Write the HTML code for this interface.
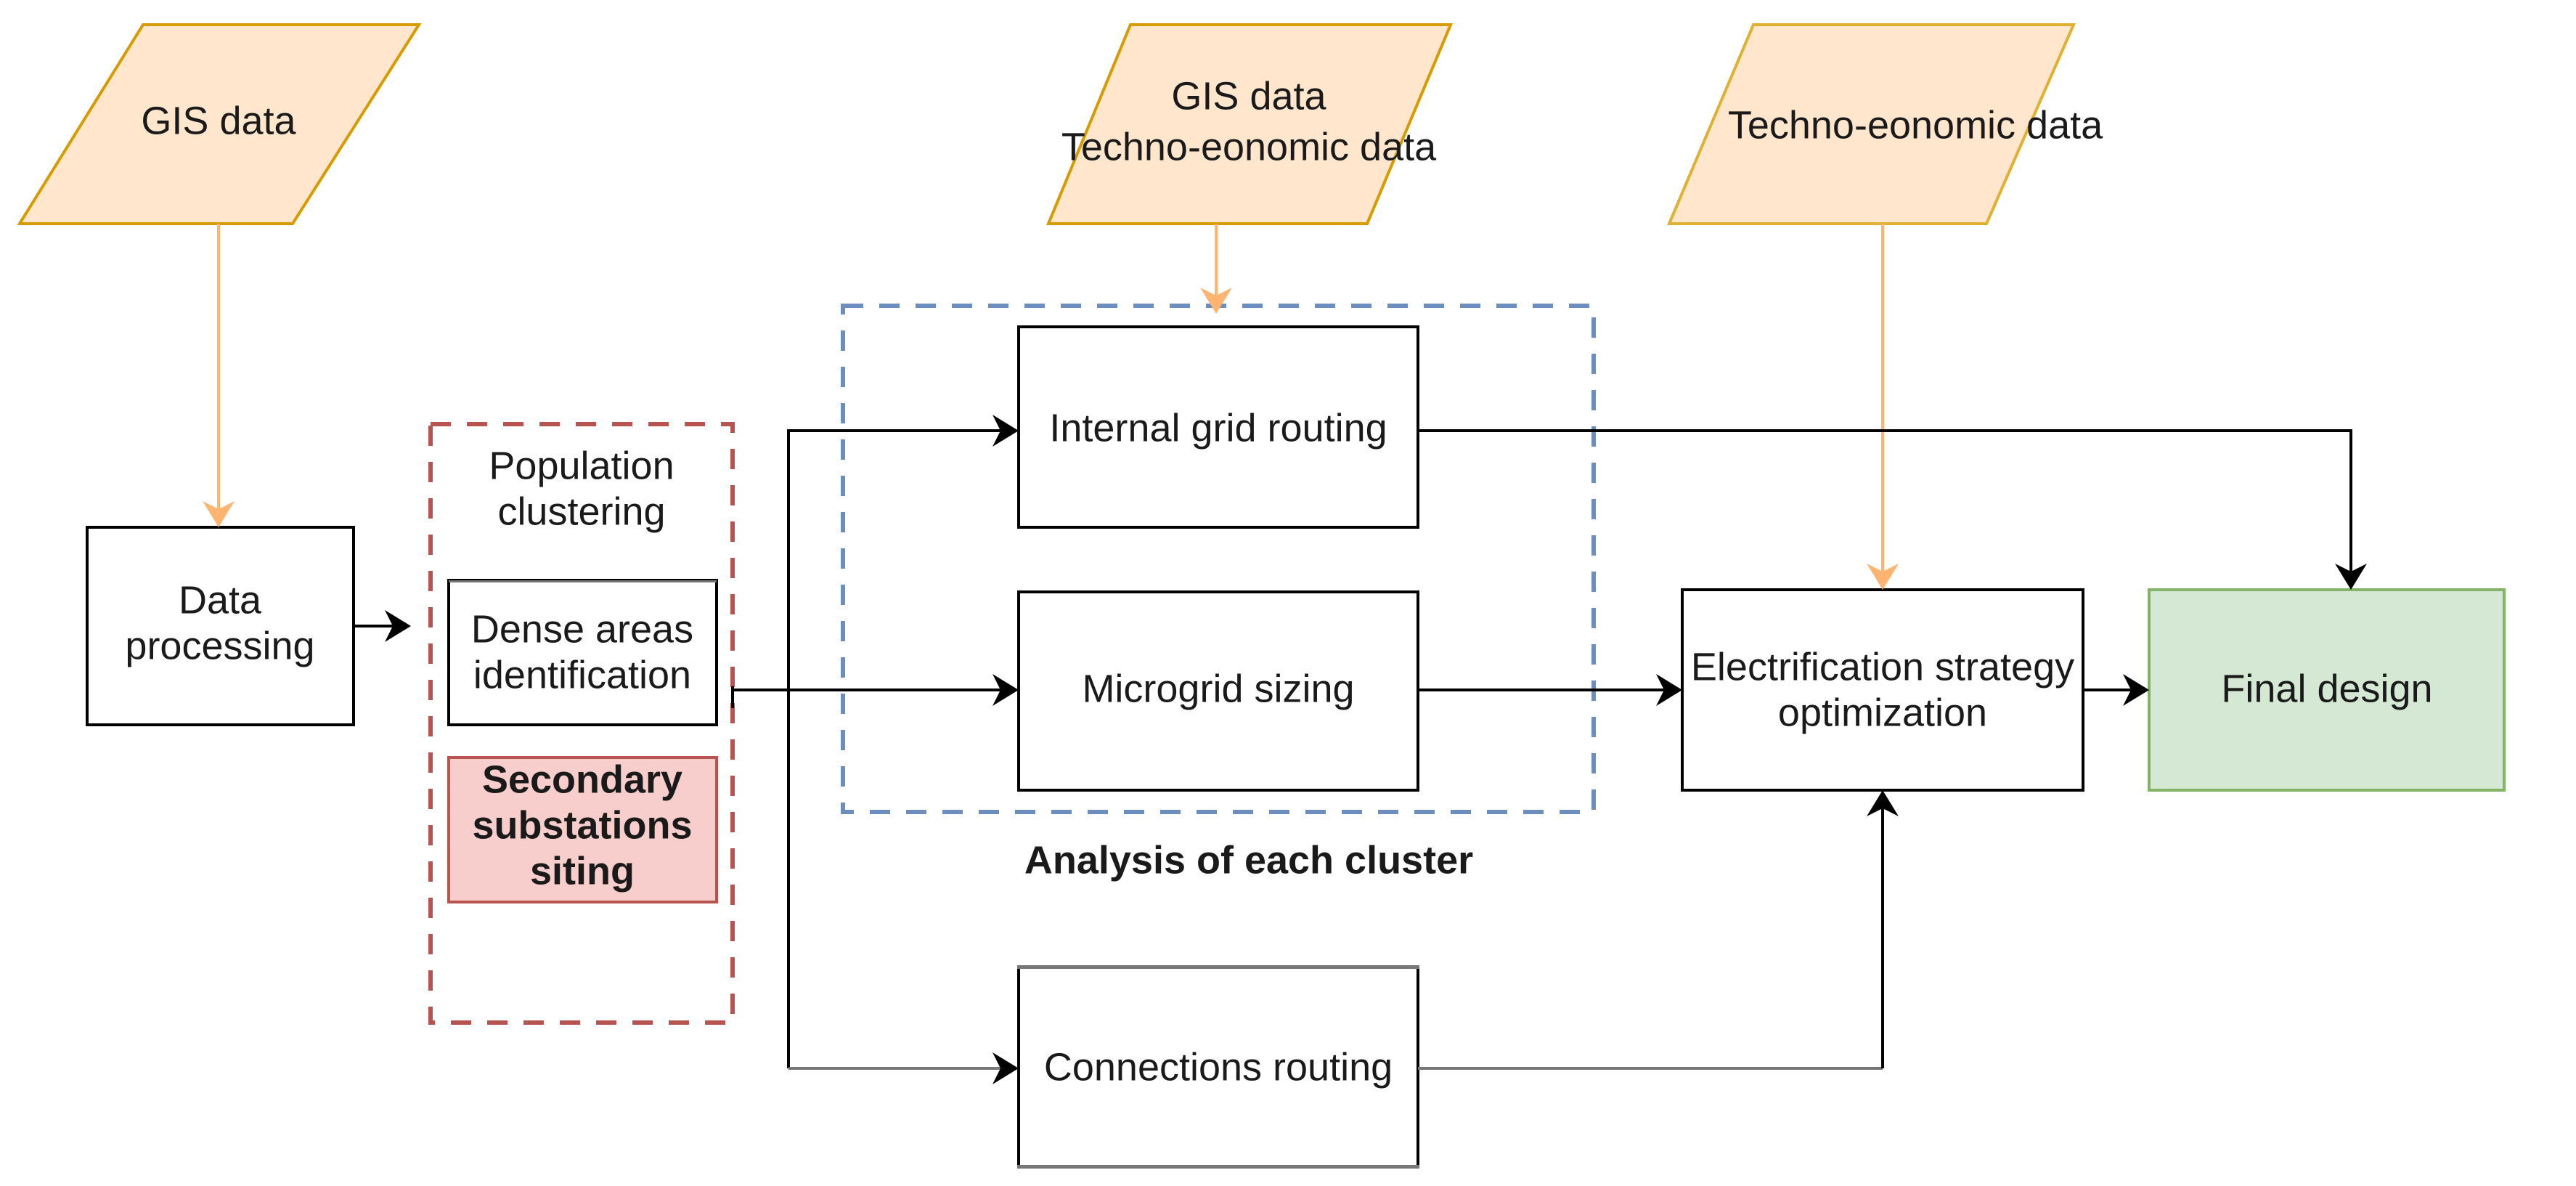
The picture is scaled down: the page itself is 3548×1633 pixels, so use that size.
<!DOCTYPE html>
<html><head><meta charset="utf-8"><style>
html,body{margin:0;padding:0;background:#fff;}
svg{display:block;}
text{font-family:"Liberation Sans",Arial,sans-serif;font-size:54px;fill:#1a1a1a;text-anchor:middle;dominant-baseline:middle;}
</style></head><body>
<svg width="3548" height="1633" viewBox="0 0 3548 1633" xmlns="http://www.w3.org/2000/svg">
<!-- parallelograms -->
<polygon points="197,34 577,34 403,308 27,308" fill="#ffe6cc" stroke="#d79b00" stroke-width="4"/>
<text x="301" y="170">GIS data</text>
<polygon points="1557,34 1998,34 1883,308 1444,308" fill="#ffe6cc" stroke="#d79b00" stroke-width="4"/>
<text x="1720" y="136">GIS data</text>
<text x="1720" y="206">Techno-eonomic data</text>
<polygon points="2415,34 2856,34 2736,308 2299,308" fill="#ffe6cc" stroke="#e0b030" stroke-width="4"/>
<text x="2638" y="176">Techno-eonomic data</text>

<!-- containers -->
<rect x="593" y="584" width="416" height="824" fill="none" stroke="#b85450" stroke-width="6" stroke-dasharray="28,22"/>
<rect x="1161" y="421" width="1034" height="697" fill="none" stroke="#6c8ebf" stroke-width="6" stroke-dasharray="28,22"/>
<text x="801" y="645">Population</text>
<text x="801" y="708">clustering</text>
<text x="1720" y="1188" style="font-weight:bold">Analysis of each cluster</text>

<!-- boxes -->
<rect x="120" y="726" width="367" height="272" fill="#fff" stroke="#000" stroke-width="4"/>
<text x="303" y="830">Data</text>
<text x="303" y="893">processing</text>
<rect x="618" y="799" width="369" height="199" fill="#fff" stroke="#000" stroke-width="4"/>
<rect x="618" y="799" width="369" height="3" fill="#777"/>
<text x="802" y="870">Dense areas</text>
<text x="802" y="933">identification</text>
<rect x="618" y="1043" width="369" height="199" fill="#f8cecc" stroke="#b85450" stroke-width="4"/>
<text x="802" y="1077" style="font-weight:bold">Secondary</text>
<text x="802" y="1140" style="font-weight:bold">substations</text>
<text x="802" y="1203" style="font-weight:bold">siting</text>

<rect x="1403" y="450" width="550" height="276" fill="#fff" stroke="#000" stroke-width="4"/>
<text x="1678" y="593">Internal grid routing</text>
<rect x="1403" y="815" width="550" height="273" fill="#fff" stroke="#000" stroke-width="4"/>
<text x="1678" y="952">Microgrid sizing</text>
<rect x="1403" y="1331" width="550" height="276" fill="#fff" stroke="#000" stroke-width="4"/>
<rect x="1401" y="1329" width="554" height="5" fill="#777"/>
<rect x="1401" y="1604" width="554" height="5" fill="#777"/>
<text x="1678" y="1473">Connections routing</text>

<rect x="2317" y="812" width="552" height="276" fill="#fff" stroke="#000" stroke-width="4"/>
<text x="2593" y="922">Electrification strategy</text>
<text x="2593" y="985">optimization</text>
<rect x="2960" y="812" width="489" height="276" fill="#d5e8d4" stroke="#82b366" stroke-width="4"/>
<text x="3205" y="952">Final design</text>

<!-- connectors -->
<g fill="none" stroke-width="4">
<line x1="301" y1="308" x2="301" y2="705" stroke="#ffb570"/>
<line x1="1675" y1="308" x2="1675" y2="412" stroke="#ffb570"/>
<line x1="2593" y1="308" x2="2593" y2="792" stroke="#ffb570"/>
<line x1="487" y1="862" x2="545" y2="862" stroke="#000"/>
<polyline points="1009,950 1383,950" stroke="#000"/>
<line x1="1009" y1="945" x2="1009" y2="975" stroke="#000"/>
<polyline points="1383,593 1086,593 1086,1471" stroke="#000"/>
<polyline points="1086,1471 1383,1471" stroke="#777"/>
<polyline points="1953,1471 2593,1471" stroke="#777"/>
<polyline points="2593,1471 2593,1108" stroke="#000"/>
<polyline points="1953,593 3238,593 3238,792" stroke="#000"/>
<line x1="1953" y1="950" x2="2297" y2="950" stroke="#000"/>
<line x1="2869" y1="950" x2="2940" y2="950" stroke="#000"/>
</g>
<!-- arrowheads -->
<g fill="#ffb570">
<polygon points="301,726 279,690 301,701 323,690"/>
<polygon points="1675,432 1653,396 1675,407 1697,396"/>
<polygon points="2593,812 2571,776 2593,787 2615,776"/>
</g>
<g fill="#000">
<polygon points="566,862 530,840 541,862 530,884"/>
<polygon points="1403,593 1367,571 1378,593 1367,615"/>
<polygon points="1403,950 1367,928 1378,950 1367,972"/>
<polygon points="1403,1471 1367,1449 1378,1471 1367,1493"/>
<polygon points="2317,950 2281,928 2292,950 2281,972"/>
<polygon points="2960,950 2924,928 2935,950 2924,972"/>
<polygon points="3238,812 3216,776 3238,787 3260,776"/>
<polygon points="2593,1088 2571,1124 2593,1113 2615,1124"/>
</g>
</svg>
</body></html>
